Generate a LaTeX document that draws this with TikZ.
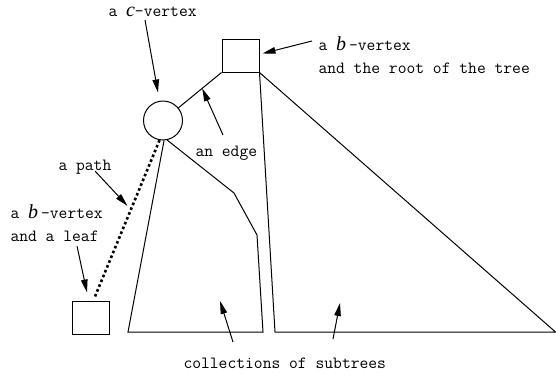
\documentclass[tikz,border=0pt]{standalone}
\usepackage{fontspec}
\setmainfont{Liberation Serif}
\usetikzlibrary{arrows.meta}
\newcommand{\vx}[1]{{\rmfamily\itshape\fontsize{20}{20}\selectfont #1}}

\begin{document}
\begin{tikzpicture}[x=1pt, y=-1pt, line width=1pt,
		lbl/.style={font=\fontsize{17.1}{22.5}\selectfont\ttfamily, inner sep=0pt, anchor=base west, align=left},
		ptr/.style={-{Triangle[length=13pt, width=6.5pt]}},
		bvertex/.style={draw, rectangle, minimum width=37pt, minimum height=33pt, inner sep=0pt},
		cvertex/.style={draw, circle, minimum size=39pt, inner sep=0pt}]
		\useasboundingbox (0,0) rectangle (556,375);
		% vertices
		\node[bvertex] (root) at (240.5,55.5) {};
		\node[cvertex] (cv) at (163,120.5) {};
		\node[bvertex] (leaf) at (90.5,317.5) {};
		% edge, path and subtrees
		\draw (cv) -- (root.south west) coordinate[pos=0.55] (emid);
		\draw[line width=2.6pt, dash pattern=on 2.6pt off 2.6pt] (cv.-100) -- ([shift={(4.5,-4)}]leaf.north) coordinate[pos=0.42] (pmid);
		\draw (cv.-87) -- (128,332) -- (263,332) -- (257,235) -- (234,193) -- (cv.-78);
		\draw (root.south east) -- (275,332) -- (555.5,332) -- cycle;
		% labels (base is the last line)
		\node[lbl] (clbl) at (108,16) {a \vx{c}-vertex};
		\node[lbl] (rootlbl) at (318,73) {a \vx{b}\hspace{3pt}-vertex\\and the root of the tree};
		\node[lbl] (elbl) at (195,156) {an edge};
		\node[lbl] (plbl) at (58,170) {a path};
		\node[lbl] (leaflbl) at (10,241) {a \vx{b}\hspace{3pt}-vertex\\and a leaf};
		\node[lbl] (slbl) at (183,368) {collections of subtrees};
		% pointers
		\draw[ptr] ([shift={(37,4)}]clbl.base west) -- ([shift={(-5,-8)}]cv.north);
		\draw[ptr] ([shift={(-6,-32)}]rootlbl.base west) -- ([shift={(3,-2)}]root.east);
		\draw[ptr] ([shift={(28,-21)}]elbl.base west) -- (emid);
		\draw[ptr] ([shift={(37,1)}]plbl.base west) -- ([xshift=-5pt]pmid);
		\draw[ptr] ([shift={(67,5)}]leaflbl.base west) -- ([shift={(-3.5,-8)}]leaf.north);
		\draw[ptr] ([shift={(50,-26)}]slbl.base west) -- (220,301);
		\draw[ptr] ([shift={(150,-29)}]slbl.base west) -- (340,303);
	\end{tikzpicture}
\end{document}
